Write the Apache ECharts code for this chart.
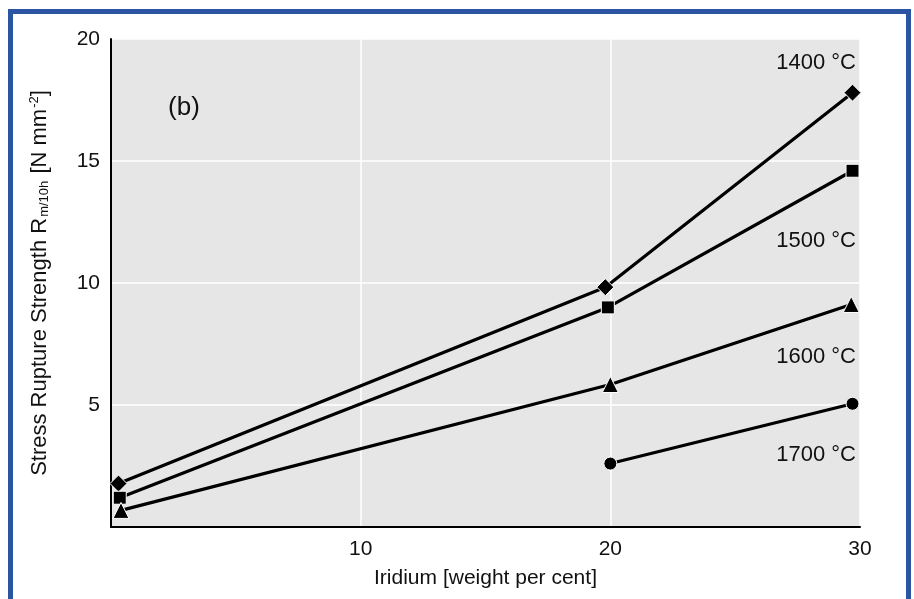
<!DOCTYPE html>
<html>
<head>
<meta charset="utf-8">
<script src="https://cdn.jsdelivr.net/npm/echarts@6/dist/echarts.min.js"></script>
<style>
  html, body { margin: 0; padding: 0; background: #fff; }
  #main { width: 914px; height: 599px; }
</style>
</head>
<body>
<div id="main"></div>
<script>
// iridium content (weight per cent) and rupture strength per temperature
const x1400 = [0.3, 19.8, 29.7];
const y1400 = [1.78, 9.83, 17.8];
const x1500 = [0.35, 19.9, 29.7];
const y1500 = [1.2, 9.0, 14.6];
const x1600 = [0.4, 20.0, 29.65];
const y1600 = [0.68, 5.84, 9.12];
const x1700 = [20.0, 29.7];
const y1700 = [2.6, 5.05];

const seriesNames = ['1400 °C', '1500 °C', '1600 °C', '1700 °C'];
const symbols = ['diamond', 'rect', 'triangle', 'circle'];
const symbolSizes = [17, 13, 16, 13];
const xTicks = [10, 20, 30];
const yTicks = [5, 10, 15, 20];

const font = '"Liberation Sans", Arial, Helvetica, sans-serif';

function pairs(xs, ys) {
  return xs.map((x, i) => [x, ys[i]]);
}

const allData = [pairs(x1400, y1400), pairs(x1500, y1500), pairs(x1600, y1600), pairs(x1700, y1700)];

const series = allData.map((d, i) => ({
  name: seriesNames[i],
  type: 'line',
  data: d,
  symbol: symbols[i],
  symbolSize: symbolSizes[i],
  lineStyle: { color: '#000', width: 3.2 },
  itemStyle: { color: '#000', borderColor: '#fff', borderWidth: 1 },
  z: 3
}));

var myChart = echarts.init(document.getElementById('main'));

// label positions for the temperature notes (right aligned inside the plot)
const notes = [
  { text: seriesNames[0], y: 63 },
  { text: seriesNames[1], y: 241 },
  { text: seriesNames[2], y: 357 },
  { text: seriesNames[3], y: 455 }
];

const option = {
  animation: false,
  backgroundColor: '#fff',
  textStyle: { fontFamily: font },
  grid: {
    left: 111, top: 39, right: 54, bottom: 72,
    show: true, backgroundColor: '#e6e6e6', borderWidth: 0
  },
  xAxis: {
    type: 'value',
    min: 0, max: 30, interval: 10,
    name: 'Iridium [weight per cent]',
    nameLocation: 'middle',
    nameGap: 41,
    nameTextStyle: { fontSize: 21, color: '#111', fontFamily: font },
    axisLine: { show: true, lineStyle: { color: '#000', width: 2 } },
    axisTick: { show: false },
    axisLabel: {
      fontSize: 21, color: '#111', fontFamily: font, margin: 12,
      formatter: v => (xTicks.indexOf(v) >= 0 ? String(v) : '')
    },
    splitLine: { show: true, lineStyle: { color: '#fff', width: 1.5 } }
  },
  yAxis: {
    type: 'value',
    min: 0, max: 20, interval: 5,
    name: 'Stress Rupture Strength R{sub|m/10h} [N mm{sup|-2}]',
    nameLocation: 'middle',
    nameGap: 60,
    nameTextStyle: {
      fontSize: 22, color: '#111', fontFamily: font,
      rich: {
        sub: { fontSize: 13, color: '#111', fontFamily: font, padding: [10, 1, 0, 1] },
        sup: { fontSize: 13, color: '#111', fontFamily: font, padding: [0, 0, 10, 1] }
      }
    },
    axisLine: { show: true, lineStyle: { color: '#000', width: 2 } },
    axisTick: { show: false },
    axisLabel: {
      fontSize: 21, color: '#111', fontFamily: font, margin: 11,
      formatter: v => (yTicks.indexOf(v) >= 0 ? String(v) : '')
    },
    splitLine: { show: true, lineStyle: { color: '#fff', width: 1.5 } }
  },
  graphic: [
    {
      type: 'rect',
      shape: { x: 10.5, y: 11.5, width: 898, height: 700 },
      style: { fill: 'none', stroke: '#2b55a3', lineWidth: 5 },
      z: 10
    },
    {
      type: 'text',
      x: 184, y: 108,
      style: {
        text: '(b)', font: '26px ' + font, fill: '#111',
        textAlign: 'center', textVerticalAlign: 'middle'
      },
      z: 10
    }
  ].concat(notes.map(n => ({
    type: 'text',
    x: 856, y: n.y,
    style: {
      text: n.text, font: '22px ' + font, fill: '#111',
      textAlign: 'right', textVerticalAlign: 'middle'
    },
    z: 10
  }))),
  series
};

myChart.setOption(option);
</script>
</body>
</html>
